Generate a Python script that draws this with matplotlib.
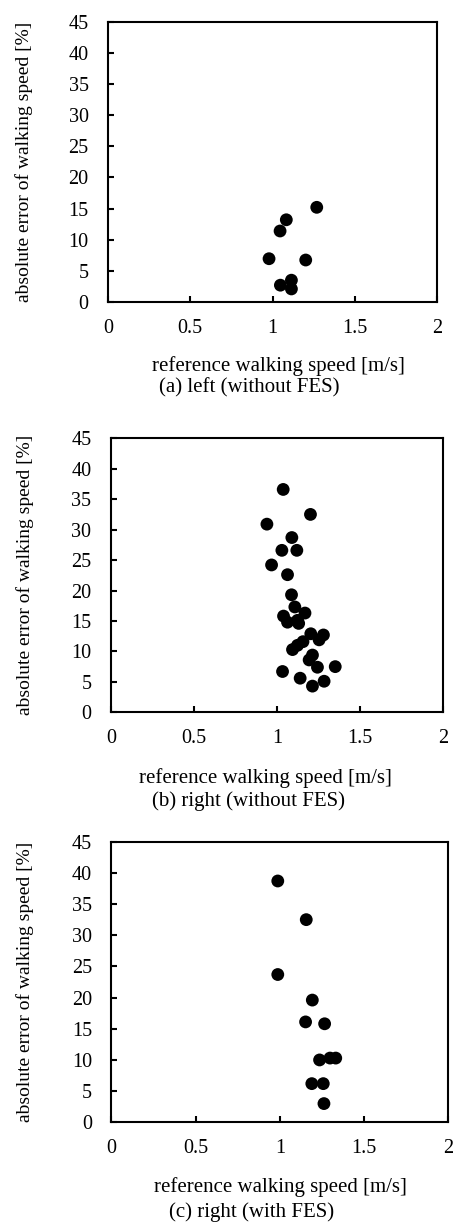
import matplotlib.pyplot as plt

plt.rcParams["font.family"] = ["Liberation Serif", "DejaVu Serif"]
plt.rcParams["font.size"] = 14.5

# (a) left (without FES)
speed_a = [1.269, 1.084, 1.046, 0.979, 1.202, 1.115, 1.048, 1.115]
error_a = [15.2, 13.2, 11.4, 6.95, 6.74, 3.5, 2.7, 2.1]

# (b) right (without FES)
speed_b = [1.037, 1.201, 0.939, 1.089, 1.029, 1.119, 0.967, 1.063,
           1.087, 1.107, 1.039, 1.063, 1.123, 1.168, 1.130, 1.203,
           1.279, 1.253, 1.156, 1.123, 1.093, 1.213, 1.193, 1.243,
           1.350, 1.033, 1.139, 1.283, 1.213]
error_b = [36.6, 32.5, 30.9, 28.7, 26.6, 26.6, 24.2, 22.6,
           19.3, 17.3, 15.8, 14.8, 15.1, 16.3, 14.6, 12.9,
           12.7, 11.9, 11.6, 11.0, 10.3, 9.4, 8.6, 7.4,
           7.5, 6.7, 5.6, 5.1, 4.3]

# (c) right (with FES)
speed_c = [0.988, 1.157, 0.988, 1.193, 1.153, 1.266, 1.236, 1.298,
           1.332, 1.190, 1.258, 1.262]
error_c = [38.7, 32.5, 23.7, 19.6, 16.1, 15.8, 10.0, 10.3,
           10.3, 6.2, 6.2, 3.0]

captions = ["(a) left (without FES)", "(b) right (without FES)", "(c) right (with FES)"]
x_ticks = [0, 0.5, 1, 1.5, 2]
x_tick_labels = ["0", "0.5", "1", "1.5", "2"]
y_ticks = list(range(0, 50, 5))

W, H = 454, 1222
fig = plt.figure(figsize=(W / 100, H / 100), dpi=100)

# axes boxes in pixels: left, top, right, bottom
boxes = [
    (108, 21.7, 437, 302),
    (110.8, 438.3, 443.3, 712.3),
    (111.3, 841.7, 448.3, 1122.3),
]
# label / caption centres in pixels
xlabel_pos = [(278, 366), (265, 778), (280, 1187)]
caption_pos = [(249, 388), (248, 801), (252, 1212)]
ylabel_x = [24, 25, 25]

panels = [(speed_a, error_a), (speed_b, error_b), (speed_c, error_c)]

for i, (xs, ys) in enumerate(panels):
    l, t, r, b = boxes[i]
    ax = fig.add_axes([l / W, 1 - b / H, (r - l) / W, (b - t) / H])
    ax.scatter(xs, ys, s=85, color="black", edgecolors="none", zorder=3)
    ax.set_xlim(0, 2)
    ax.set_ylim(0, 45)
    ax.set_xticks(x_ticks)
    ax.set_xticklabels(x_tick_labels)
    ax.set_yticks(y_ticks)
    for sp in ax.spines.values():
        sp.set_linewidth(1.5)
    ax.tick_params(direction="in", length=4.3, width=1.5, labelsize=14.5)
    ax.tick_params(axis="x", pad=12)
    ax.tick_params(axis="y", pad=14)

    # axis titles and caption
    fig.text(ylabel_x[i] / W, 1 - (t + b) / 2 / H, "absolute error of walking speed [%]",
             rotation=90, ha="center", va="center", fontsize=14)
    fig.text(xlabel_pos[i][0] / W, 1 - xlabel_pos[i][1] / H, "reference walking speed [m/s]",
             ha="center", va="center", fontsize=15)
    fig.text(caption_pos[i][0] / W, 1 - caption_pos[i][1] / H, captions[i],
             ha="center", va="center", fontsize=15)

fig.savefig("out.png", dpi=100)
